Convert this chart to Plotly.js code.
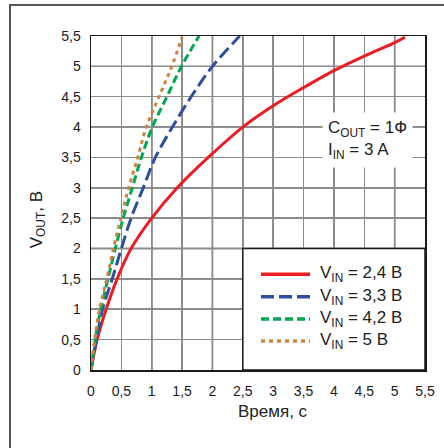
<!DOCTYPE html>
<html><head><meta charset="utf-8">
<script src="https://cdn.plot.ly/plotly-3.0.1.min.js"></script>
<style>
html,body{margin:0;padding:0;background:#fff;}
#chart{width:444px;height:448px;}
#frame{position:absolute;left:9px;top:4px;width:440px;height:450px;border-top:2px solid #555;border-left:2px solid #555;pointer-events:none;}
</style>
</head><body>
<div id="chart"></div><div id="frame"></div>
<script>
// Data (time in s, voltage in V)
const names = ["V<sub>IN</sub> = 2,4 В", "V<sub>IN</sub> = 3,3 В", "V<sub>IN</sub> = 4,2 В", "V<sub>IN</sub> = 5 В"];
const tRed    = [0, 0.1, 0.25, 0.43, 0.66, 1.0, 1.42, 1.93, 2.5, 3.0, 3.5, 4.0, 4.5, 5.0, 5.17];
const vRed    = [0, 0.5, 1.0, 1.5, 2.0, 2.5, 3.0, 3.5, 4.0, 4.35, 4.65, 4.93, 5.17, 5.39, 5.48];
const tBlue   = [0, 0.09, 0.19, 0.35, 0.5, 0.66, 0.86, 1.06, 1.34, 1.65, 2.0, 2.45];
const vBlue   = [0, 0.5, 1.0, 1.5, 2.0, 2.5, 3.0, 3.5, 4.0, 4.5, 5.0, 5.5];
const tGreen  = [0, 0.07, 0.16, 0.28, 0.4, 0.53, 0.68, 0.83, 1.01, 1.25, 1.49, 1.78];
const vGreen  = [0, 0.5, 1.0, 1.5, 2.0, 2.5, 3.0, 3.5, 4.0, 4.5, 5.0, 5.5];
const tOrange = [0, 0.06, 0.14, 0.26, 0.37, 0.49, 0.62, 0.77, 0.91, 1.12, 1.33, 1.5];
const vOrange = [0, 0.5, 1.0, 1.5, 2.0, 2.5, 3.0, 3.5, 4.0, 4.5, 5.0, 5.48];
const tickVals = [0, 0.5, 1, 1.5, 2, 2.5, 3, 3.5, 4, 4.5, 5, 5.5];

const colors = ["#ec1c24", "#2e4e9e", "#00a651", "#cc8440"];
const dashes = ["solid", "13px,5px", "8px,4px", "4px,4px"];
const xs = [tRed, tBlue, tGreen, tOrange];
const ys = [vRed, vBlue, vGreen, vOrange];

const font = "Liberation Sans, Arial, sans-serif";
const traces = xs.map((x, i) => ({
  x: x, y: ys[i], name: names[i], type: "scatter", mode: "lines",
  line: {color: colors[i], width: 3, dash: dashes[i], shape: "spline", smoothing: 1},
  showlegend: false, hoverinfo: "skip"
}));

const shapes = [];
// darker grid lines on whole units
for (let k = 1; k <= 5; k++) {
  shapes.push({type: "line", xref: "x", yref: "paper", x0: k, x1: k, y0: 0, y1: 1, layer: "between", line: {color: "#1a1a1a", width: 1.4}});
  shapes.push({type: "line", xref: "paper", yref: "y", x0: 0, x1: 1, y0: k, y1: k, layer: "between", line: {color: "#1a1a1a", width: 1.4}});
}
// legend box
shapes.push({type: "rect", xref: "x", yref: "y", x0: 2.5, x1: 5.5, y0: 0, y1: 2, layer: "between", fillcolor: "#fff", line: {color: "#1a1a1a", width: 1.5}});

const annotations = [];
const rowY = [0.287, 0.219, 0.153, 0.087];
names.forEach((n, i) => {
  shapes.push({type: "line", xref: "paper", yref: "paper", x0: 0.509, x1: 0.656, y0: rowY[i], y1: rowY[i], layer: "above",
    line: {color: colors[i], width: 3.5, dash: dashes[i]}});
  annotations.push({xref: "paper", yref: "paper", x: 0.68, y: rowY[i], xanchor: "left", yanchor: "middle", showarrow: false,
    text: n, font: {family: font, size: 17, color: "#222"}});
});
annotations.push({xref: "x", yref: "y", x: 3.8, y: 3.78, xanchor: "left", yanchor: "middle", showarrow: false, align: "left",
  text: "C<sub>OUT</sub> = 1Ф<br>I<sub>IN</sub> = 3 A", bgcolor: "#fff", borderpad: 5,
  font: {family: font, size: 17, color: "#222"}});
// axis titles
annotations.push({xref: "paper", yref: "paper", x: 0.545, y: -0.125, xanchor: "center", yanchor: "middle", showarrow: false,
  text: "Время, с", font: {family: font, size: 17, color: "#222"}});
annotations.push({xref: "paper", yref: "paper", x: -0.16, y: 0.45, xanchor: "center", yanchor: "middle", showarrow: false, textangle: -90,
  text: "V<sub>OUT</sub>, В", font: {family: font, size: 17, color: "#222"}});

const axisCommon = {
  range: [0, 5.5], tickvals: tickVals, showgrid: true, gridcolor: "#8c8c8c", gridwidth: 1.4,
  zeroline: false, showline: true, mirror: true, linecolor: "#1a1a1a", linewidth: 1.5,
  ticks: "", tickfont: {family: font, size: 14, color: "#1a1a1a"}, fixedrange: true
};

const layout = {
  width: 444, height: 448,
  margin: {l: 91, r: 19, t: 36, b: 78},
  paper_bgcolor: "#fff", plot_bgcolor: "#fff",
  separators: ", ",
  showlegend: false,
  xaxis: Object.assign({}, axisCommon, {ticklabelstandoff: 8}),
  yaxis: Object.assign({}, axisCommon, {ticklabelstandoff: 6}),
  shapes: shapes, annotations: annotations
};

Plotly.newPlot("chart", traces, layout, {displayModeBar: false, staticPlot: true});
</script>
</body></html>
